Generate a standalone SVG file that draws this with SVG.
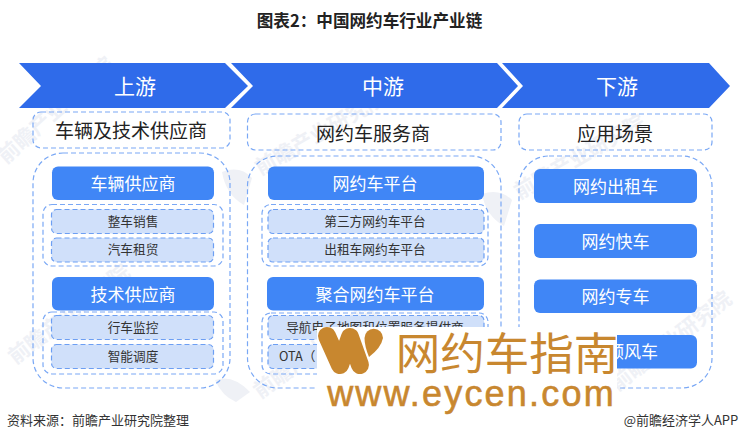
<svg xmlns="http://www.w3.org/2000/svg" width="740" height="441" viewBox="0 0 740 441">
<style>
text{font-family:"Noto Sans CJK SC","Liberation Sans",sans-serif;text-anchor:middle;dominant-baseline:central}
.wm{font-size:21px;font-weight:700;fill:#eff1f6;text-anchor:start}
.sw{fill:#eff1f6}
.title{font-size:16.600px;font-weight:700;fill:#222}
.stage{fill:#2f6bea}
.stxt{font-size:21px;fill:#fff}
.box{fill:none;stroke:#7aa8f5;stroke-width:1.2;stroke-dasharray:5 3}
.head{font-size:19px;fill:#222}
.btn{fill:#4086f6}
.btxt{font-size:17px;fill:#fff}
.item{fill:#d0e0fa;stroke:#6d9ff3;stroke-width:1.2;stroke-dasharray:5 3}
.itxt{font-size:12.700px;fill:#333}
.src{font-size:13px;fill:#333}
.brand{fill:#c8872f}
</style>
<rect width="740" height="441" fill="#fff"/>
<g id="watermark">
<text class="wm" transform="translate(0,158) rotate(-42)">前瞻产业研究院</text>
<text class="wm" transform="translate(10,358) rotate(-38)">前瞻产业研究院</text>
<text class="wm" transform="translate(256,168) rotate(-30)">前瞻产业研究院</text>
<text class="wm" transform="translate(515,192) rotate(-30)">前瞻产业研究院</text>
<text class="wm" transform="translate(255,392) rotate(-36)">前瞻产业研究院</text>
<text class="wm" transform="translate(612,385) rotate(-38)">前瞻产业研究院</text>
<path class="sw" d="M222,172 Q240,165 252,178 L244,205 Q226,195 222,172Z"/>
<path class="sw" d="M482,194 Q500,188 512,200 L504,226 Q486,216 482,194Z"/>
<path class="sw" d="M215,380 Q233,374 250,392 L236,402 Q222,396 215,380Z"/>
</g>
<text class="title" x="369.500" y="19.500">图表2：中国网约车行业产业链</text>
<g id="stage-upstream"><polygon class="stage" points="19,63 225,63 248,86 225,108 19,108 41,86"/><text class="stxt" x="135" y="85">上游</text></g>
<g id="stage-midstream"><polygon class="stage" points="231,63 497,63 518,86 497,108 231,108 253,86"/><text class="stxt" x="383" y="85">中游</text></g>
<g id="stage-downstream"><polygon class="stage" points="502,63 709,63 730,86 709,108 502,108 523,86"/><text class="stxt" x="617" y="85">下游</text></g>
<g id="connectors"></g>
<g id="upstream">
<rect class="box" x="33" y="112" width="197" height="36" rx="8"/><text class="head" x="131" y="129">车辆及技术供应商</text>
<rect class="box" x="33" y="153" width="197" height="235" rx="30"/>
<rect class="btn" x="52" y="166.500" width="162" height="33.500" rx="6"/><text class="btxt" x="133" y="182">车辆供应商</text>
<rect class="box" x="43" y="204.500" width="180" height="61.500" rx="9"/>
<rect class="item" x="51.500" y="209.500" width="162" height="24" rx="5"/><text class="itxt" x="133" y="220">整车销售</text>
<rect class="item" x="51.500" y="238" width="162" height="24" rx="5"/><text class="itxt" x="133" y="248.500">汽车租贸</text>
<rect class="btn" x="52" y="277" width="162" height="33.500" rx="6"/><text class="btxt" x="133" y="293">技术供应商</text>
<rect class="box" x="43" y="312" width="180" height="62" rx="9"/>
<rect class="item" x="51.500" y="315.500" width="162" height="24" rx="5"/><text class="itxt" x="133" y="326">行车监控</text>
<rect class="item" x="51.500" y="344.500" width="162" height="24" rx="5"/><text class="itxt" x="133" y="355">智能调度</text>
</g>
<g id="midstream">
<rect class="box" x="247.500" y="114" width="253.500" height="36" rx="8"/><text class="head" x="373" y="132">网约车服务商</text>
<rect class="box" x="247.500" y="156" width="253.500" height="232" rx="30"/>
<rect class="btn" x="268" y="166.500" width="216" height="33.500" rx="6"/><text class="btxt" x="375" y="182">网约车平台</text>
<rect class="box" x="262" y="204.500" width="226" height="61.500" rx="9"/>
<rect class="item" x="268" y="209.500" width="216" height="24" rx="5"/><text class="itxt" x="375" y="220">第三方网约车平台</text>
<rect class="item" x="268" y="238" width="216" height="24" rx="5"/><text class="itxt" x="375" y="248.500">出租车网约车平台</text>
<rect class="btn" x="267" y="277" width="217" height="33.500" rx="6"/><text class="btxt" x="375" y="293">聚合网约车平台</text>
<rect class="box" x="262" y="313" width="226" height="61" rx="9"/>
<rect class="item" x="268" y="315.500" width="216" height="24" rx="5"/><text class="itxt" x="375" y="326">导航电子地图和位置服务提供商</text>
<rect class="item" x="268" y="344.500" width="216" height="24" rx="5"/><text class="itxt" x="279" y="355" style="text-anchor:start">OTA（</text>
</g>
<g id="downstream">
<rect class="box" x="519" y="114" width="193" height="36" rx="8"/><text class="head" x="615" y="132">应用场景</text>
<rect class="box" x="519" y="156" width="193" height="232" rx="30"/>
<rect class="btn" x="534" y="169" width="163" height="34" rx="6"/><text class="btxt" x="615.500" y="185">网约出租车</text>
<rect class="btn" x="534" y="224" width="163" height="34" rx="6"/><text class="btxt" x="615.500" y="240">网约快车</text>
<rect class="btn" x="534" y="279.500" width="163" height="33.500" rx="6"/><text class="btxt" x="615.500" y="295">网约专车</text>
<rect class="btn" x="534" y="335" width="163" height="33.500" rx="6"/><text class="btxt" x="607" y="350.500" style="text-anchor:start">顺风车</text>
</g>
<g id="brand">
<rect x="317" y="327" width="300" height="84" fill="#fff"/>
<path d="M327,336 L340,365 L350,337 L360,365" fill="none" stroke="#c8872f" stroke-width="18" stroke-linecap="round" stroke-linejoin="round"/>
<path class="brand" d="M364.500,338 A9.250,9.250 0 0 1 383,338 Q381,348 369,357 Q364.500,346 364.500,338Z"/>
<text class="brand" x="507" y="350" style="font-size:44.500px">网约车指南</text>
<text class="brand" x="471.500" y="393" stroke="#c8872f" stroke-width="0.6" style="font-family:'Liberation Sans',sans-serif;font-size:36px;letter-spacing:2.2px">www.eycen.com</text>
</g>
<text class="src" x="98" y="419.500">资料来源：前瞻产业研究院整理</text>
<text class="src" x="681" y="419.500">@前瞻经济学人APP</text>
</svg>
